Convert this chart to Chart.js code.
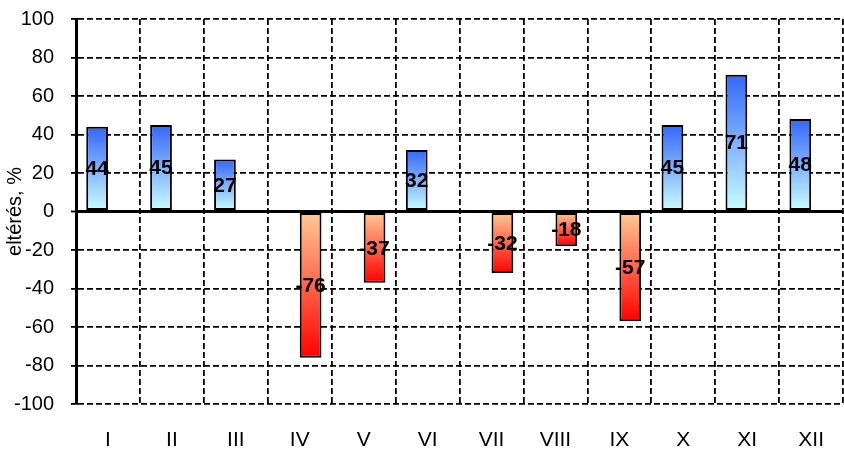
<!DOCTYPE html>
<html lang="hu">
<head>
  <meta charset="UTF-8">
  <title>Eltérés havonta</title>
  <script src="https://cdn.jsdelivr.net/npm/chart.js"></script>
  <style>
    html, body {
      margin: 0;
      padding: 0;
      background: #fff;
      overflow: hidden;
    }
    #wrap {
      position: absolute;
      left: 0;
      top: -10px;
      width: 848px;
      height: 463px;
    }
  </style>
</head>
<body>
  <div id="wrap">
    <canvas id="chart" width="848" height="463"></canvas>
  </div>
  <script>
    // Hónapok (római számokkal)
    const months = ['I', 'II', 'III', 'IV', 'V', 'VI', 'VII', 'VIII', 'IX', 'X', 'XI', 'XII'];
    // Pozitív eltérések (kék oszlopok)
    const positiveValues = [44, 45, 27, null, null, 32, null, null, null, 45, 71, 48];
    // Negatív eltérések (piros oszlopok)
    const negativeValues = [null, null, null, -76, -37, null, -32, -18, -57, null, null, null];
    // Y tengely
    const yMin = -100;
    const yMax = 100;
    const yStep = 20;

    const FONT = "Arial, 'Liberation Sans', sans-serif";

    // Oszloponkénti színátmenet: a 0 vonaltól az oszlop végéig
    function barGradient(context, zeroColor, endColor) {
      const chart = context.chart;
      const y = chart.scales.y;
      const v = context.raw;
      if (!y || v === null || v === undefined || !chart.chartArea) return zeroColor;
      const y0 = y.getPixelForValue(0);
      const y1 = y.getPixelForValue(v);
      if (y0 === y1) return zeroColor;
      const g = chart.ctx.createLinearGradient(0, y0, 0, y1);
      g.addColorStop(0, zeroColor);
      g.addColorStop(1, endColor);
      return g;
    }

    // Vastag 0-vonal az oszlopok fölött + értékcímkék az oszlopok közepére
    const valueLabels = {
      id: 'valueLabels',
      afterDatasetsDraw(chart) {
        const ctx = chart.ctx;
        const area = chart.chartArea;
        const y0 = chart.scales.y.getPixelForValue(0);
        ctx.save();
        ctx.strokeStyle = '#000';
        ctx.lineWidth = 3;
        ctx.beginPath();
        ctx.moveTo(area.left, y0);
        ctx.lineTo(area.right, y0);
        ctx.stroke();

        ctx.font = 'bold 21px ' + FONT;
        ctx.fillStyle = '#000';
        ctx.textAlign = 'center';
        ctx.textBaseline = 'middle';
        chart.data.datasets.forEach((ds, i) => {
          const meta = chart.getDatasetMeta(i);
          meta.data.forEach((bar, j) => {
            const v = ds.data[j];
            if (v === null || v === undefined) return;
            ctx.fillText(String(v), bar.x, (bar.y + bar.base) / 2 + 1);
          });
        });
        ctx.restore();
      }
    };

    const isZero = (c) => c.tick && c.tick.value === 0;

    new Chart(document.getElementById('chart'), {
      type: 'bar',
      data: {
        labels: months,
        datasets: [
          {
            label: 'pozitív',
            data: positiveValues,
            backgroundColor: (c) => barGradient(c, '#ccffff', '#3366ff'),
            borderColor: '#000',
            borderWidth: 2,
            borderSkipped: false
          },
          {
            label: 'negatív',
            data: negativeValues,
            backgroundColor: (c) => barGradient(c, '#ffcc99', '#ff0000'),
            borderColor: '#000',
            borderWidth: 2,
            borderSkipped: false
          }
        ]
      },
      options: {
        responsive: false,
        devicePixelRatio: 1,
        animation: false,
        categoryPercentage: 0.68,
        barPercentage: 1,
        layout: { padding: { top: 9, left: 0, right: 0, bottom: 0 } },
        plugins: {
          legend: { display: false },
          tooltip: { enabled: false }
        },
        scales: {
          x: {
            offset: true,
            grid: {
              offset: true,
              color: '#000',
              lineWidth: 1.8,
              drawTicks: false
            },
            border: { display: false, dash: [6, 3] },
            ticks: {
              color: '#000',
              padding: 24,
              font: { family: "'Liberation Sans Narrow', 'Arial Narrow', " + FONT, size: 21 }
            },
            afterFit(scale) { scale.height = 49; }
          },
          y: {
            min: yMin,
            max: yMax,
            grid: {
              color: '#000',
              lineWidth: (c) => isZero(c) ? 3 : 1.8,
              tickLength: 5,
              tickColor: '#000',
              tickWidth: 1.8
            },
            border: {
              display: true,
              color: '#000',
              width: 3,
              dash: (c) => isZero(c) ? [] : [6, 3]
            },
            ticks: {
              stepSize: yStep,
              color: '#000',
              padding: 17,
              font: { family: FONT, size: 20 }
            },
            title: {
              display: true,
              text: 'eltérés, %',
              color: '#000',
              padding: { top: 3, bottom: 0 },
              font: { family: FONT, size: 20 }
            },
            afterFit(scale) { scale.width = 76; }
          }
        }
      },
      plugins: [valueLabels]
    });
  </script>
</body>
</html>
